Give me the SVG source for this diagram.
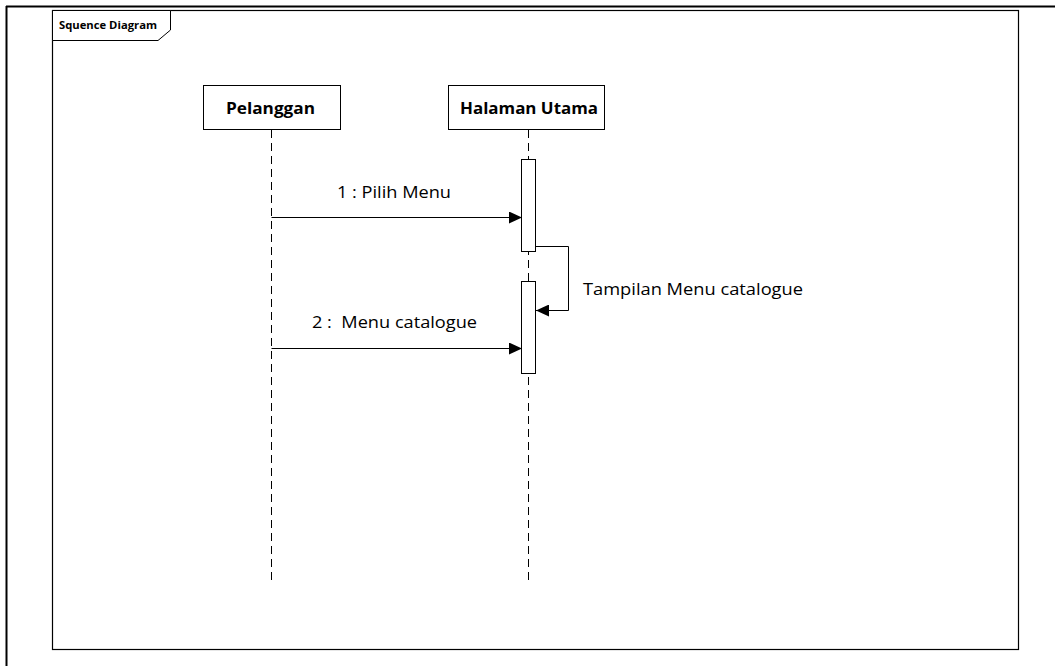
<svg xmlns="http://www.w3.org/2000/svg" width="1055" height="666" viewBox="0 0 1055 666">
<style>
.t{font-family:"Open Sans","Liberation Sans",Arial,sans-serif;fill:#000}
.b{font-weight:bold}
.box{fill:#fff;stroke:#000;stroke-width:1}
.life{stroke:#000;stroke-width:1;stroke-dasharray:8,5;fill:none}
.msg{stroke:#000;stroke-width:1;fill:none}
</style>
<defs>
<marker id="ah" markerWidth="13" markerHeight="12" refX="13" refY="6" orient="auto" markerUnits="userSpaceOnUse">
<path d="M0,0 L13,6 L0,12 Z" fill="#000"/>
</marker>
</defs>
<rect width="1055" height="666" fill="#fff"/>
<g id="page">
<line x1="6" y1="6.5" x2="1055" y2="6.5" stroke="#000" stroke-width="2"/>
<line x1="6.5" y1="6" x2="6.5" y2="666" stroke="#000" stroke-width="2"/>
</g>
<g id="frame">
<rect x="52.5" y="10.5" width="966" height="639" fill="none" stroke="#000" stroke-width="1.2"/>
<path d="M52.5,10.5 H170.5 V30 L158,40.5 H52.5 Z" fill="#fff" stroke="#000" stroke-width="1"/>
<text class="t b" x="59" y="29" font-size="11" textLength="98" lengthAdjust="spacingAndGlyphs">Squence Diagram</text>
</g>
<g id="lifelines">
<line class="life" x1="271.5" y1="130" x2="271.5" y2="580"/>
<line class="life" x1="528.5" y1="130" x2="528.5" y2="580"/>
</g>
<g id="pelanggan">
<rect class="box" x="203.5" y="85.5" width="137" height="44"/>
<text class="t b" x="226" y="114" font-size="16" textLength="89" lengthAdjust="spacingAndGlyphs">Pelanggan</text>
</g>
<g id="halaman-utama">
<rect class="box" x="448.5" y="85.5" width="156" height="44"/>
<text class="t b" x="460" y="114" font-size="16" textLength="138" lengthAdjust="spacingAndGlyphs">Halaman Utama</text>
</g>
<g id="activation1">
<rect class="box" x="521.5" y="159.5" width="14" height="92"/>
</g>
<g id="activation2">
<rect class="box" x="521.5" y="281.5" width="14" height="92"/>
</g>
<g id="connectors">
<line class="msg" x1="271.5" y1="217.5" x2="522" y2="217.5" marker-end="url(#ah)"/>
<path class="msg" d="M535.5,246.5 H568.5 V310.5 H536" marker-end="url(#ah)"/>
<line class="msg" x1="271.5" y1="348.5" x2="522" y2="348.5" marker-end="url(#ah)"/>
</g>
<g id="labels">
<text class="t" x="337" y="198" font-size="16" textLength="114" lengthAdjust="spacingAndGlyphs">1 : Pilih Menu</text>
<text class="t" x="583" y="295" font-size="16" textLength="220" lengthAdjust="spacingAndGlyphs">Tampilan Menu catalogue</text>
<text class="t" x="312" y="328" font-size="16" textLength="165" lengthAdjust="spacingAndGlyphs" xml:space="preserve">2 :  Menu catalogue</text>
</g>
</svg>
